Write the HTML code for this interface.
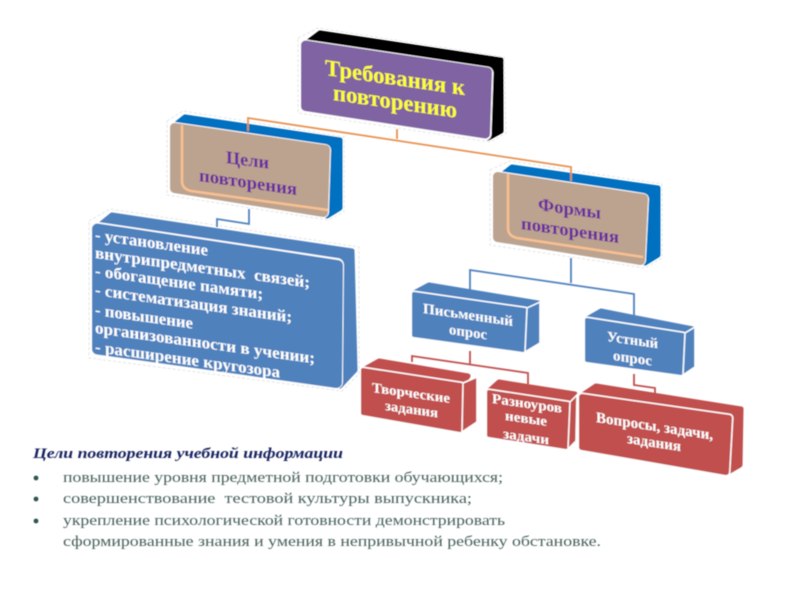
<!DOCTYPE html>
<html><head><meta charset="utf-8"><style>
html,body{margin:0;padding:0;background:#fff;width:800px;height:600px;overflow:hidden}
svg{display:block}
text{font-family:"Liberation Serif","DejaVu Serif",serif}
.b{font-weight:bold}
.w{fill:#fff;font-weight:bold}
.p{fill:#6b2c9e;font-weight:bold}
.g{fill:#47605c;font-size:15px}
.back{stroke-linejoin:round;stroke-width:5}
.halo{fill:#fff;stroke:#fff;stroke-linejoin:round}
.front{stroke-linejoin:round}
.dash{fill:none;stroke:#e4e4e4;stroke-width:1;stroke-dasharray:3 2;stroke-linejoin:round}
</style></head><body>
<svg width="800" height="600" viewBox="0 0 800 600" xmlns="http://www.w3.org/2000/svg">
<defs><filter id="bl" x="-2%" y="-2%" width="104%" height="104%"><feGaussianBlur stdDeviation="0.55"/></filter></defs>
<rect width="800" height="600" fill="#fff"/>
<g filter="url(#bl)">

<!-- Dashed halos -->
<polygon class="dash" points="298,38 318,28 504,57 506,133 490,142 298,113"/>
<polygon class="dash" points="167,121 183,111 344,137 344,212 328,220 167,195"/>
<polygon class="dash" points="490,170 510,161 662,184 662,258 645,268 490,245"/>
<polygon class="dash" points="89,221 110,209 359,247 359,374 342,391 89,358"/>

<!-- Purple box -->
<polygon class="back" fill="#000" stroke="#000" points="320,33 501,60 501,131 488,138 304,45"/>
<polygon class="halo" stroke-width="13" points="306,46 487,73 485,134 306,107"/>
<polygon class="front" fill="#8064a2" stroke="#8064a2" stroke-width="9" points="305.500,45 487.500,72 485.500,134 305.500,106.500"/>
<text class="b" fill="#ffff33" font-size="23" transform="translate(325,75) skewY(8.2)" textLength="140" lengthAdjust="spacingAndGlyphs">Требования к</text>
<text class="b" fill="#ffff33" font-size="23" transform="translate(333,100) skewY(8.2)" textLength="124" lengthAdjust="spacingAndGlyphs">повторению</text>

<!-- Tan left -->
<polygon class="back" fill="#0070c0" stroke="#0070c0" points="185,117 340,140 340,208 327,216 175,125"/>
<polygon class="halo" stroke-width="12" points="175,128 325,150 323,212 175,188"/>
<polygon class="front" fill="#bba38f" stroke="#bba38f" stroke-width="9" points="174.500,127.500 325.500,149.500 323.500,212.500 174.500,188.500"/>
<path d="M182,125 V181 Q182,189 191,191 L328,210" fill="none" stroke="#fac090" stroke-width="2.500"/>
<text class="p" font-size="18" transform="translate(226,163) skewY(7.500)" textLength="43" lengthAdjust="spacingAndGlyphs">Цели</text>
<text class="p" font-size="18" transform="translate(199,181) skewY(8.200)" textLength="98" lengthAdjust="spacingAndGlyphs">повторения</text>

<!-- Tan right -->
<polygon class="back" fill="#0070c0" stroke="#0070c0" points="512,167 658,188 658,255 645,263 498,178"/>
<polygon class="halo" stroke-width="12" points="498,177 643,199 640,260 498,237"/>
<polygon class="front" fill="#bba38f" stroke="#bba38f" stroke-width="9" points="497.500,176.500 643.500,198.500 640.500,260.500 497.500,237.500"/>
<path d="M508,174 V228 Q508,236 517,238 L643,257" fill="none" stroke="#fac090" stroke-width="2.500"/>
<text class="p" font-size="18" transform="translate(538,210) skewY(8)" textLength="63" lengthAdjust="spacingAndGlyphs">Формы</text>
<text class="p" font-size="18" transform="translate(521,229) skewY(8.200)" textLength="98" lengthAdjust="spacingAndGlyphs">повторения</text>

<!-- Big blue -->
<polygon class="back" fill="#4f81bd" stroke="#4f81bd" points="112,215 352,251 355,370 340,386 96,228"/>
<polygon class="halo" stroke-width="14" points="98,229 337,265 336,382 98,349"/>
<polygon class="front" fill="#4f81bd" stroke="#4f81bd" stroke-width="11" points="97.500,229 337.500,265.500 336.500,382.500 97.500,349"/>
<g class="w" font-size="16.500">
<text transform="translate(95,240) skewY(7.900)" textLength="113" lengthAdjust="spacingAndGlyphs">- установление</text>
<text transform="translate(95,258) skewY(7.900)" textLength="215" lengthAdjust="spacingAndGlyphs" xml:space="preserve">внутрипредметных  связей;</text>
<text transform="translate(95,276) skewY(7.900)" textLength="168" lengthAdjust="spacingAndGlyphs">- обогащение памяти;</text>
<text transform="translate(95,295) skewY(7.900)" textLength="197" lengthAdjust="spacingAndGlyphs">- систематизация знаний;</text>
<text transform="translate(95,315) skewY(7.900)" textLength="98" lengthAdjust="spacingAndGlyphs">- повышение</text>
<text transform="translate(95,333) skewY(7.900)" textLength="220" lengthAdjust="spacingAndGlyphs">организованности в учении;</text>
<text transform="translate(95,352) skewY(7.900)" textLength="185" lengthAdjust="spacingAndGlyphs">- расширение кругозора</text>
</g>

<!-- Письменный -->
<polygon class="back" fill="#4f81bd" stroke="#4f81bd" points="429,285 538,303 538,341 525,349 414,293"/>
<polygon class="halo" stroke-width="7" points="414,294 525,310 523,350 414,335"/>
<polygon class="front" fill="#4f81bd" stroke="#4f81bd" stroke-width="4" points="414,294 525,310 523,350 414,335"/>
<polygon fill="#4f81bd" stroke="#fff" stroke-width="1.500" points="527,308 540,302 540,343 525,352"/>
<text class="w" font-size="14.500" transform="translate(423,313) skewY(8.200)" textLength="90" lengthAdjust="spacingAndGlyphs">Письменный</text>
<text class="w" font-size="14.500" transform="translate(449,334) skewY(8.200)" textLength="38" lengthAdjust="spacingAndGlyphs">опрос</text>

<!-- Устный -->
<polygon class="back" fill="#4f81bd" stroke="#4f81bd" points="601,311 693,329 693,365 683,372 587,319"/>
<polygon class="halo" stroke-width="7" points="587,320 683,335 681,373 587,360"/>
<polygon class="front" fill="#4f81bd" stroke="#4f81bd" stroke-width="4" points="587,320 683,335 681,373 587,360"/>
<polygon fill="#4f81bd" stroke="#fff" stroke-width="1.500" points="685,333 695,327 695,367 683,375"/>
<text class="w" font-size="14.500" transform="translate(607,341) skewY(8.200)" textLength="51" lengthAdjust="spacingAndGlyphs">Устный</text>
<text class="w" font-size="14.500" transform="translate(613,360) skewY(8.200)" textLength="39" lengthAdjust="spacingAndGlyphs">опрос</text>

<!-- Творческие -->
<polygon class="back" fill="#c0504d" stroke="#c0504d" points="379,361 468,376 463,384 363,370"/>
<polygon class="halo" stroke-width="7" points="363,370 461,385 460,430 363,413"/>
<polygon class="front" fill="#c0504d" stroke="#c0504d" stroke-width="4" points="363,370 461,385 460,430 363,413"/>
<polygon fill="#c0504d" stroke="#fff" stroke-width="1.500" points="463,383 477,377 477,422 462,432"/>
<text class="w" font-size="14" transform="translate(372,392) skewY(8)" textLength="78" lengthAdjust="spacingAndGlyphs">Творческие</text>
<text class="w" font-size="14" transform="translate(385,410) skewY(8)" textLength="53" lengthAdjust="spacingAndGlyphs">задания</text>

<!-- Разноуровневые -->
<polygon class="back" fill="#c0504d" stroke="#c0504d" points="499,382 575,394 570,402 489,391"/>
<polygon class="halo" stroke-width="7" points="489,392 568,404 566,447 489,435"/>
<polygon class="front" fill="#c0504d" stroke="#c0504d" stroke-width="4" points="489,392 568,404 566,447 489,435"/>
<polygon fill="#c0504d" stroke="#fff" stroke-width="1.500" points="570,402 577,395 576,441 568,449"/>
<text class="w" font-size="14" transform="translate(492,403) skewY(8)" textLength="70" lengthAdjust="spacingAndGlyphs">Разноуров</text>
<text class="w" font-size="14" transform="translate(505,420) skewY(8)" textLength="42" lengthAdjust="spacingAndGlyphs">невые</text>
<text class="w" font-size="14" transform="translate(503,438) skewY(8)" textLength="46" lengthAdjust="spacingAndGlyphs">задачи</text>

<!-- Вопросы -->
<polygon class="back" fill="#c0504d" stroke="#c0504d" points="596,386 741,409 740,465 728,472 581,396"/>
<polygon class="halo" stroke-width="9" points="582,397 729,418 726,472 582,447"/>
<polygon class="front" fill="#c0504d" stroke="#c0504d" stroke-width="6" points="582,397 729,418 726,472 582,447"/>
<text class="w" font-size="15" transform="translate(596,422) skewY(8.600)" textLength="117" lengthAdjust="spacingAndGlyphs">Вопросы, задачи,</text>
<text class="w" font-size="15" transform="translate(627,443) skewY(8.600)" textLength="54" lengthAdjust="spacingAndGlyphs">задания</text>

<!-- Connectors -->
<g fill="none" stroke-width="1.800">
<path d="M397,129 V139 M248,131 V118 L571,167 V181" stroke="#e8914f"/>
<path d="M249,209 V224 L217,219 V227" stroke="#4f81bd"/>
<path d="M571,258 V283 M470,292 V270 L634,294 V316" stroke="#4f81bd"/>
<path d="M470,351 V365 M412,362 V356 L528,373 V384" stroke="#c0504d"/>
<path d="M634,374 V385 L655,388 V394" stroke="#c0504d"/>
</g>

<!-- Bottom text -->
<text x="33" y="458" font-size="14.500" font-weight="bold" font-style="italic" fill="#17205e" textLength="310" lengthAdjust="spacingAndGlyphs">Цели повторения учебной информации</text>
<circle cx="36" cy="478" r="2.400" fill="#2f5450"/>
<circle cx="36" cy="499" r="2.400" fill="#2f5450"/>
<circle cx="36" cy="521" r="2.400" fill="#2f5450"/>
<text class="g" x="63" y="482" textLength="440" lengthAdjust="spacingAndGlyphs">повышение уровня предметной подготовки обучающихся;</text>
<text class="g" x="63" y="503" textLength="409" lengthAdjust="spacingAndGlyphs" xml:space="preserve">совершенствование  тестовой культуры выпускника;</text>
<text class="g" x="63" y="525" textLength="442" lengthAdjust="spacingAndGlyphs">укрепление психологической готовности демонстрировать</text>
<text class="g" x="63" y="546" textLength="538" lengthAdjust="spacingAndGlyphs">сформированные знания и умения в непривычной ребенку обстановке.</text>
</g>
</svg>
</body></html>
